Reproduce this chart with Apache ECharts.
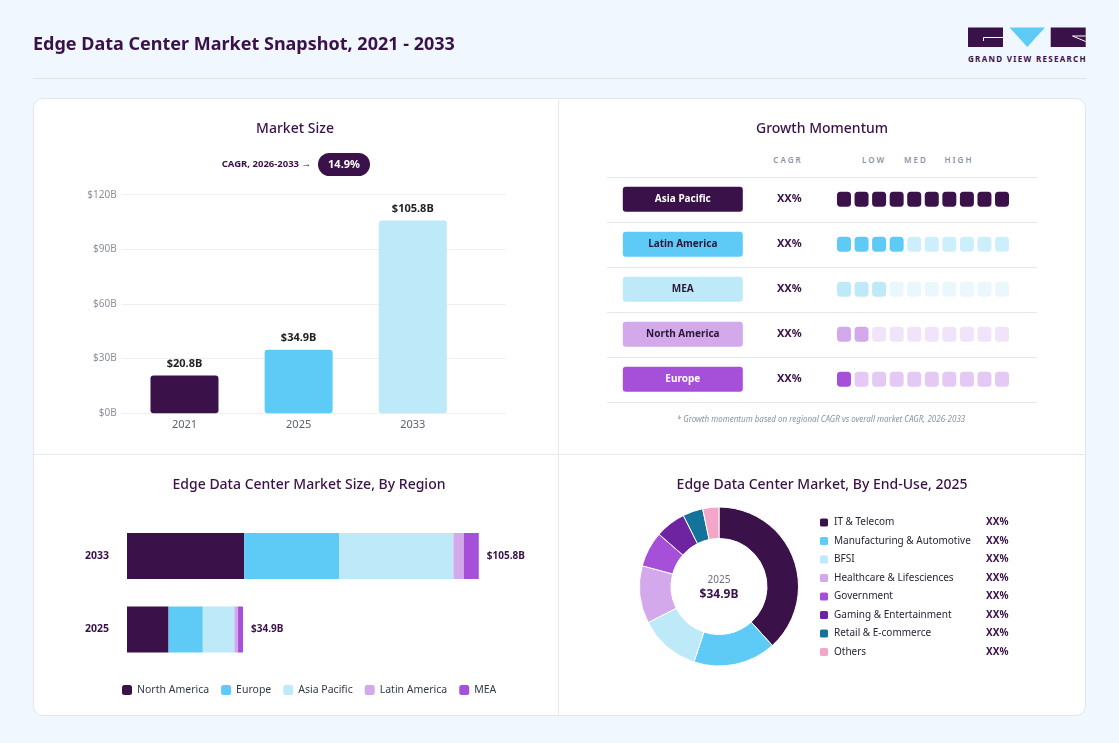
<!DOCTYPE html>
<html>
<head>
<meta charset="utf-8">
<title>Edge Data Center Market Snapshot</title>
<script src="https://cdn.jsdelivr.net/npm/echarts@6/dist/echarts.min.js"></script>
<style>
html, body { margin: 0; padding: 0; background: #f0f7fe; }
#wrap { position: relative; width: 1119px; height: 743px; overflow: hidden; font-family: "Noto Sans", sans-serif; }
.card { position: absolute; left: 33px; top: 98px; width: 1051px; height: 616px; background: #fff; border: 1px solid #e1e7ef; border-radius: 10px; }
.vline { position: absolute; left: 558px; top: 99px; width: 1px; height: 616px; background: #e6eaf0; }
.hline { position: absolute; left: 34px; top: 454px; width: 1051px; height: 1px; background: #e6eaf0; }
.rule { position: absolute; left: 33px; top: 78px; width: 1053px; height: 1px; background: #dde5ee; }
.hdr { position: absolute; top: 154px; line-height: 12px; font-size: 8px; font-weight: 600; letter-spacing: 2px; color: #8a94a6; transform: translateX(-50%); white-space: nowrap; }
.brand { position: absolute; left: 968px; top: 54px; width: 120px; line-height: 10px; font-size: 8px; font-weight: bold; letter-spacing: 1.3px; color: #3a1149; white-space: nowrap; }
#chart { position: absolute; left: 0; top: 0; width: 1119px; height: 743px; }
</style>
</head>
<body>
<div id="wrap">
  <div class="rule"></div>
  <div class="card"></div>
  <div class="vline"></div>
  <div class="hline"></div>
  <div class="hdr" style="left:788px">CAGR</div>
  <div class="hdr" style="left:874px">LOW</div>
  <div class="hdr" style="left:916px">MED</div>
  <div class="hdr" style="left:959px">HIGH</div>
  <div class="brand">GRAND VIEW RESEARCH</div>
  <div id="chart"></div>
</div>
<script>
// market size
var years = ['2021', '2025', '2033'];
var marketSize = [20.8, 34.9, 105.8];
var sizeColors = ['#3a1149', '#5ecbf7', '#bde9f9'];

// growth momentum
var momentumRegions = ['Asia Pacific', 'Latin America', 'MEA', 'North America', 'Europe'];
var momentumCagr = ['XX%', 'XX%', 'XX%', 'XX%', 'XX%'];
var momentumLevel = [10, 4, 3, 2, 1];
var momentumSteps = ['1', '2', '3', '4', '5', '6', '7', '8', '9', '10'];
var momentumOn = ['#3a1149', '#5ecbf7', '#bde9f9', '#d4a9ec', '#a64fd8'];
var momentumOff = ['#3a1149', '#cdeefb', '#eaf7fd', '#f1e3f9', '#e4c9f4'];
var momentumText = ['#ffffff', '#2a1838', '#2a1838', '#2a1838', '#ffffff'];

// market size by region
var regionYears = ['2025', '2033'];
var regions = ['North America', 'Europe', 'Asia Pacific', 'Latin America', 'MEA'];
var northAmerica = [12.5, 35.2];
var europe = [10.3, 28.6];
var asiaPacific = [9.5, 34.4];
var latinAmerica = [1.1, 3.1];
var mea = [1.5, 4.5];
var regionTotals = [34.9, 105.8];
var regionColors = ['#3a1149', '#5ecbf7', '#bde9f9', '#d4a9ec', '#a64fd8'];

// end-use 2025
var endUses = ['IT & Telecom', 'Manufacturing & Automotive', 'BFSI', 'Healthcare & Lifesciences',
  'Government', 'Gaming & Entertainment', 'Retail & E-commerce', 'Others'];
var endUseShare = [38.3, 16.8, 12.4, 11.7, 7.2, 6.2, 4.1, 3.3];
var endUseColors = ['#3a1149', '#5ecbf7', '#bde9f9', '#d4a9ec', '#a64fd8', '#6e24a0', '#13739a', '#f4a6c8'];

var FONT = '"Noto Sans", sans-serif';
var DARK = '#3a1149';

function txt(x, y, s, font, fill, align) {
  return {
    type: 'text', x: x, y: y, silent: true,
    style: { text: s, font: font, fill: fill, textAlign: align || 'center', textVerticalAlign: 'middle' }
  };
}

var regionData = [northAmerica, europe, asiaPacific, latinAmerica, mea];

var cells = [];
momentumRegions.forEach(function (r, ri) {
  momentumSteps.forEach(function (s, si) {
    cells.push({
      value: [si, ri],
      itemStyle: { color: si < momentumLevel[ri] ? momentumOn[ri] : momentumOff[ri], opacity: 1 }
    });
  });
});

var boxRich = {};
momentumRegions.forEach(function (r, i) {
  boxRich['b' + i] = {
    backgroundColor: momentumOn[i], color: momentumText[i], width: 120, height: 25, lineHeight: 25,
    align: 'center', fontWeight: 'bold', fontSize: 10, borderRadius: 3, fontFamily: FONT
  };
});

var option = {
  animation: false,
  textStyle: { fontFamily: FONT },
  grid: [
    { left: 121.7, top: 194.7, width: 384, height: 218.6 },
    { left: 835.2, top: 176.8, width: 175.6, height: 225 },
    { left: 607, top: 176.8, width: 430, height: 225 },
    { left: 127, top: 519.25, width: 399, height: 147 }
  ],
  xAxis: [
    {
      gridIndex: 0, type: 'value', min: -0.05, max: 3.314,
      axisLine: { show: false }, axisTick: { show: false }, splitLine: { show: false },
      axisLabel: {
        customValues: [0.5, 1.5, 2.5], margin: 6, color: '#5b6272', fontSize: 11,
        formatter: function (v) { return years[Math.round(v - 0.5)]; }
      }
    },
    { gridIndex: 1, type: 'category', data: momentumSteps, show: false },
    { gridIndex: 2, type: 'value', show: false },
    { gridIndex: 3, type: 'value', min: 0, max: 120, show: false }
  ],
  yAxis: [
    {
      gridIndex: 0, type: 'value', min: 0, max: 120, interval: 30,
      axisLine: { show: false }, axisTick: { show: false },
      axisLabel: { margin: 5, color: '#8a909c', fontSize: 10, formatter: function (v) { return '$' + v + 'B'; } },
      splitLine: { lineStyle: { color: '#eceff5' } }
    },
    {
      gridIndex: 1, type: 'category', data: momentumRegions, inverse: true, position: 'left',
      axisLine: { show: false }, axisTick: { show: false },
      axisLabel: {
        margin: 152.4, align: 'center', rich: boxRich,
        formatter: function (v, i) { return '{b' + i + '|' + v + '}'; }
      }
    },
    {
      gridIndex: 1, type: 'category', data: momentumCagr, inverse: true, position: 'left',
      axisLine: { show: false }, axisTick: { show: false },
      axisLabel: { margin: 45.9, align: 'center', color: DARK, fontWeight: 'bold', fontSize: 11 }
    },
    {
      gridIndex: 2, type: 'category', data: momentumRegions, inverse: true,
      axisLine: { show: false }, axisTick: { show: false }, axisLabel: { show: false },
      splitLine: { show: true, interval: 0, lineStyle: { color: '#e3e8ef' } }
    },
    {
      gridIndex: 3, type: 'category', data: regionYears,
      axisLine: { show: false }, axisTick: { show: false },
      axisLabel: { margin: 18, color: DARK, fontWeight: 'bold', fontSize: 10.5 }
    }
  ],
  legend: [
    {
      data: regions, left: 122, top: 684.5, padding: 0, itemWidth: 10, itemHeight: 10, itemGap: 12,
      icon: 'roundRect', selectedMode: false,
      textStyle: { fontSize: 10.5, color: '#333a48' }
    },
    {
      data: endUses, orient: 'vertical', left: 818, top: 516.5, padding: 0, itemWidth: 10, itemHeight: 10, itemGap: 6.5,
      icon: 'roundRect', selectedMode: false,
      formatter: function (n) { return '{n|' + n + '}{v|XX%}'; },
      textStyle: {
        rich: {
          n: { width: 152, fontSize: 10, color: '#2a2438', lineHeight: 12 },
          v: { fontSize: 10, fontWeight: 'bold', color: DARK, lineHeight: 12 }
        }
      }
    }
  ],
  series: [
    {
      type: 'bar', xAxisIndex: 0, yAxisIndex: 0, barWidth: 68,
      data: marketSize.map(function (v, i) {
        return { value: [i + 0.5, v], itemStyle: { color: sizeColors[i] } };
      }),
      itemStyle: { borderRadius: 3 },
      label: {
        show: true, position: 'top', distance: 6, color: '#222', fontWeight: 'bold', fontSize: 11,
        formatter: function (p) { return '$' + p.value[1] + 'B'; }
      }
    },
    {
      type: 'scatter', name: 'momentum', xAxisIndex: 1, yAxisIndex: 1,
      symbol: 'roundRect', symbolSize: [14, 15], data: cells, silent: true,
      itemStyle: { opacity: 1 }
    }
  ].concat(regions.map(function (r, k) {
    return {
      type: 'bar', name: r, stack: 'total', xAxisIndex: 3, yAxisIndex: 4, barWidth: 46,
      data: regionData[k], itemStyle: { color: regionColors[k] },
      label: k === regions.length - 1 ? {
        show: true, position: 'right', distance: 8, color: DARK, fontWeight: 'bold', fontSize: 10,
        formatter: function (p) { return '$' + regionTotals[p.dataIndex] + 'B'; }
      } : { show: false }
    };
  })).concat([
    {
      type: 'pie', center: [719, 586.5], radius: [48, 79.5], startAngle: 90,
      label: { show: false }, labelLine: { show: false }, silent: true,
      itemStyle: { borderColor: '#fff', borderWidth: 1 },
      data: endUses.map(function (n, i) {
        return { name: n, value: endUseShare[i], itemStyle: { color: endUseColors[i] } };
      })
    }
  ]),
  graphic: [
    txt(33, 45, 'Edge Data Center Market Snapshot, 2021 - 2033', 'bold 18px ' + FONT, DARK, 'left'),
    txt(295, 129, 'Market Size', '500 14px ' + FONT, DARK),
    txt(822, 129, 'Growth Momentum', '500 14px ' + FONT, DARK),
    txt(309, 485, 'Edge Data Center Market Size, By Region', '500 14px ' + FONT, DARK),
    txt(822, 485, 'Edge Data Center Market, By End-Use, 2025', '500 14px ' + FONT, DARK),
    txt(311, 164.5, 'CAGR, 2026-2033 \u2192', 'bold 9.5px ' + FONT, DARK, 'right'),
    { type: 'rect', shape: { x: 318, y: 153, width: 52, height: 23, r: 11.5 }, style: { fill: DARK } },
    txt(344, 164.5, '14.9%', 'bold 11px ' + FONT, '#fff'),
    txt(821, 420, '* Growth momentum based on regional CAGR vs overall market CAGR, 2026-2033', 'italic 8px ' + FONT, '#8a93a3'),
    txt(719, 580.5, '2025', '10px ' + FONT, '#6b7080'),
    txt(719, 594.5, '$34.9B', 'bold 12px ' + FONT, DARK),
    // logo
    { type: 'rect', shape: { x: 968, y: 27.5, width: 35, height: 19.5 }, style: { fill: DARK } },
    { type: 'polyline', shape: { points: [[983.5, 41], [983.5, 37.5], [1003, 37.5]] }, style: { stroke: '#fff', lineWidth: 1, fill: null } },
    { type: 'polygon', shape: { points: [[1009.5, 27.5], [1045, 27.5], [1027.3, 47]] }, style: { fill: '#5ecbf7' } },
    { type: 'rect', shape: { x: 1050.7, y: 27.5, width: 35, height: 19.5 }, style: { fill: DARK } },
    { type: 'polyline', shape: { points: [[1085.7, 36], [1072.5, 36], [1085.7, 41.5]] }, style: { stroke: '#fff', lineWidth: 1, fill: null } }
  ]
};

var myChart = echarts.init(document.getElementById('chart'));
myChart.setOption(option);
</script>
</body>
</html>
